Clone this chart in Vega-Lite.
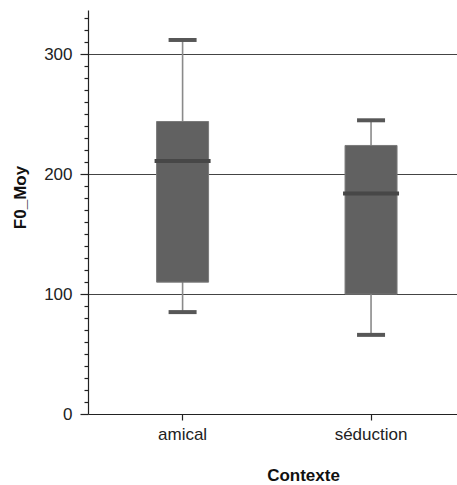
{
  "$schema": "https://vega.github.io/schema/vega-lite/v6.json",
  "width": 369,
  "height": 404,
  "autosize": {"type": "none"},
  "padding": {"left": 88, "top": 10, "right": 0, "bottom": 71},
  "background": "white",
  "config": {
    "view": {"stroke": null},
    "font": "Liberation Sans"
  },
  "data": {
    "values": [
      {"Contexte": "amical", "min": 85, "q1": 110, "median": 211, "q3": 244, "max": 312},
      {"Contexte": "séduction", "min": 66, "q1": 100, "median": 184, "q3": 224, "max": 245}
    ]
  },
  "encoding": {
    "x": {
      "field": "Contexte",
      "type": "nominal",
      "scale": {"paddingInner": 0.5, "paddingOuter": 0.229, "align": 0.55},
      "axis": {
        "title": "Contexte",
        "labelAngle": 0,
        "labelFont": "Liberation Sans",
        "labelFontSize": 17,
        "labelColor": "#222",
        "labelPadding": 6,
        "domainColor": "#222",
        "domainWidth": 1.2,
        "tickColor": "#222",
        "tickSize": 6,
        "tickWidth": 1.2,
        "grid": false,
        "titleFont": "Liberation Sans",
        "titleFontSize": 17,
        "titleFontWeight": "bold",
        "titleColor": "#111",
        "titleX": 215,
        "titleY": 61,
        "titleBaseline": "middle",
        "titleAlign": "center"
      }
    }
  },
  "layer": [
    {
      "mark": {"type": "rule", "color": "#8a8a8a", "strokeWidth": 1.6},
      "encoding": {
        "y": {
          "field": "min",
          "type": "quantitative",
          "scale": {"domain": [0, 337], "nice": false, "zero": true},
          "axis": {
            "title": "F0_Moy",
            "tickCount": 200,
            "labelOverlap": false,
            "values": [0, 10, 20, 30, 40, 50, 60, 70, 80, 90, 100, 110, 120, 130, 140, 150, 160, 170, 180, 190, 200, 210, 220, 230, 240, 250, 260, 270, 280, 290, 300, 310, 320, 330],
            "labelExpr": "datum.value % 100 === 0 ? datum.label : ''",
            "labelFont": "Liberation Sans",
            "labelFontSize": 17,
            "labelColor": "#222",
            "labelPadding": 8,
            "domainColor": "#222",
            "domainWidth": 1.2,
            "tickColor": "#222",
            "tickWidth": 1.2,
            "tickSize": {"condition": {"test": "datum.value % 100 === 0", "value": 8}, "value": 4},
            "grid": true,
            "gridColor": "#444",
            "gridWidth": 1.2,
            "gridOpacity": {"condition": {"test": "datum.value % 100 === 0 && datum.value > 0", "value": 1}, "value": 0},
            "titleFont": "Liberation Sans",
            "titleFontSize": 17,
            "titleFontWeight": "bold",
            "titleColor": "#111",
            "titleAngle": 270,
            "titleX": -68,
            "titleY": 187,
            "titleBaseline": "middle",
            "titleAlign": "center"
          }
        },
        "y2": {"field": "max"}
      }
    },
    {
      "mark": {"type": "bar", "size": 52, "color": "#616161", "stroke": "#7a7a7a", "strokeWidth": 1},
      "encoding": {
        "y": {"field": "q1", "type": "quantitative"},
        "y2": {"field": "q3"}
      }
    },
    {
      "mark": {"type": "tick", "size": 56, "thickness": 4, "color": "#474747", "opacity": 1},
      "encoding": {"y": {"field": "median", "type": "quantitative"}}
    },
    {
      "mark": {"type": "tick", "size": 28, "thickness": 4, "color": "#575757", "opacity": 1},
      "encoding": {"y": {"field": "min", "type": "quantitative"}}
    },
    {
      "mark": {"type": "tick", "size": 28, "thickness": 4, "color": "#575757", "opacity": 1},
      "encoding": {"y": {"field": "max", "type": "quantitative"}}
    }
  ]
}
